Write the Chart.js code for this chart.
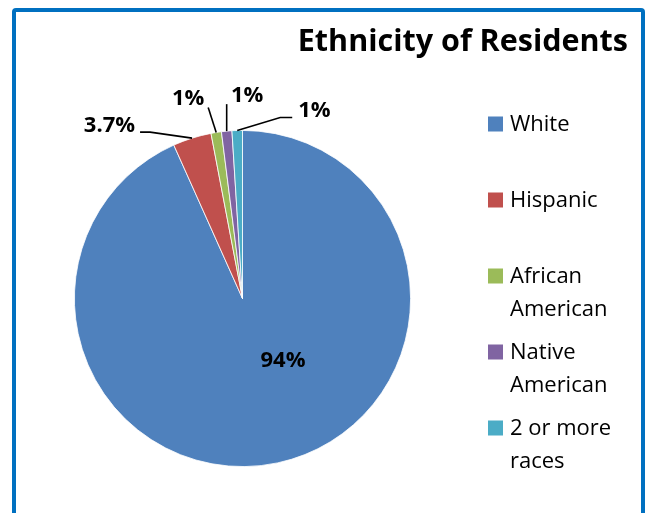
<!DOCTYPE html>
<html>
<head>
<meta charset="utf-8">
<script src="https://cdn.jsdelivr.net/npm/chart.js@4/dist/chart.umd.min.js"></script>
<style>
  html, body { margin: 0; padding: 0; background: #fff; }
  #wrap { position: relative; width: 647px; height: 513px; overflow: hidden; background: #fff; }
  #frame { position: absolute; left: 12px; top: 8px; width: 633px; height: 530px; box-sizing: border-box;
           border: 4px solid #0070C0; border-radius: 4px; }
  #c { position: absolute; left: 0; top: 0; }
</style>
</head>
<body>
<div id="wrap">
  <div id="frame"></div>
  <canvas id="c" width="647" height="513"></canvas>
</div>
<script>
// ---- data ----
const categories = ["White", "Hispanic", "African American", "Native American", "2 or more races"];
const shares = [93.3, 3.7, 1, 1, 1];
const sliceLabels = ["94%", "3.7%", "1%", "1%", "1%"];
const colors = ["#4F81BD", "#C0504D", "#9BBB59", "#8064A2", "#4BACC6"];
const chartTitle = "Ethnicity of Residents";

// label layout (offsets relative to each slice's outer-edge midpoint; white relative to centre)
const labelStyle = [
  { inside: true, text: [40.5, 62.5, "center"] },
  { pts: [[-42, -6], [-52, -6]], text: [-57, -12, "right"] },
  { pts: [[-8, -25]], text: [-28, -34, "center"] },
  { pts: [[0, -27]], text: [20.5, -35, "center"] },
  { pts: [[43, -13], [55, -13]], text: [61, -20, "left"] }
];

const FONT = "'Open Sans', 'Liberation Sans', sans-serif";

function wrapText(ctx, text, maxW) {
  const words = text.split(" ");
  const lines = [];
  let cur = "";
  for (const w of words) {
    const t = cur ? cur + " " + w : w;
    if (cur && ctx.measureText(t).width > maxW) { lines.push(cur); cur = w; }
    else cur = t;
  }
  if (cur) lines.push(cur);
  return lines;
}

const decor = {
  id: "decor",
  afterDraw(chart) {
    const ctx = chart.ctx;
    const meta = chart.getDatasetMeta(0);
    ctx.save();
    // title
    ctx.fillStyle = "#000";
    ctx.font = "bold 30.5px " + FONT;
    ctx.textAlign = "right";
    ctx.textBaseline = "alphabetic";
    ctx.fillText(chartTitle, 628, 51);

    // slice labels + leader lines
    ctx.font = "bold 22px " + FONT;
    ctx.textBaseline = "middle";
    meta.data.forEach((arc, i) => {
      const p = arc.getProps(["x", "y", "startAngle", "endAngle", "outerRadius"], true);
      const st = labelStyle[i];
      let ax, ay;
      if (st.inside) { ax = p.x; ay = p.y; }
      else {
        const mid = (p.startAngle + p.endAngle) / 2;
        ax = p.x + Math.cos(mid) * p.outerRadius;
        ay = p.y + Math.sin(mid) * p.outerRadius;
        ctx.strokeStyle = "#000";
        ctx.lineWidth = 1.6;
        ctx.beginPath();
        ctx.moveTo(ax, ay);
        st.pts.forEach(q => ctx.lineTo(ax + q[0], ay + q[1]));
        ctx.stroke();
      }
      ctx.textAlign = st.text[2];
      ctx.fillStyle = "#000";
      ctx.fillText(sliceLabels[i], ax + st.text[0], ay + st.text[1]);
    });

    // legend
    ctx.font = "22px " + FONT;
    ctx.textAlign = "left";
    ctx.textBaseline = "middle";
    const lx = 488, box = 15, tx = 510, y0 = 124, step = 76, lh = 33;
    categories.forEach((name, i) => {
      const y = y0 + i * step;
      ctx.fillStyle = colors[i];
      ctx.fillRect(lx, y - box / 2, box, box);
      ctx.fillStyle = "#000";
      wrapText(ctx, name, 118).forEach((ln, k) => ctx.fillText(ln, tx, y + k * lh + 1));
    });
    ctx.restore();
  }
};

new Chart(document.getElementById("c"), {
  type: "pie",
  data: {
    labels: categories,
    datasets: [{
      data: shares,
      backgroundColor: colors,
      borderColor: "#ffffff",
      borderWidth: 0.8
    }]
  },
  options: {
    responsive: false,
    animation: false,
    devicePixelRatio: 1,
    layout: { padding: { left: 74, right: 236, top: 130, bottom: 46 } },
    plugins: {
      legend: { display: false },
      title: { display: false },
      tooltip: { enabled: false }
    }
  },
  plugins: [decor]
});
</script>
</body>
</html>
